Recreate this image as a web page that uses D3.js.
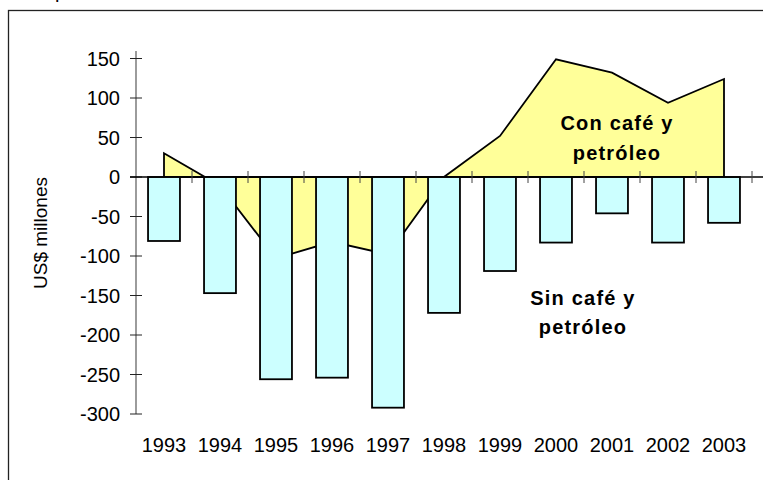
<!DOCTYPE html>
<html>
<head>
<meta charset="utf-8">
<script src="https://cdn.jsdelivr.net/npm/d3@7"></script>
<style>
  body { margin: 0; background: #fff; }
  svg { display: block; font-family: "Liberation Sans", Arial, sans-serif; }
</style>
</head>
<body>
<div id="chart"></div>
<script>
// Data (US$ millones)
var years = ["1993", "1994", "1995", "1996", "1997", "1998", "1999", "2000", "2001", "2002", "2003"];
var conCafe = [30, -11, -103, -82, -98, 0, 52, 149, 132, 94, 124];
var sinCafe = [-81, -147, -256, -254, -292, -172, -119, -83, -46, -83, -58];
var yTicks = [150, 100, 50, 0, -50, -100, -150, -200, -250, -300];

var width = 763, height = 480;

var svg = d3.select("#chart").append("svg")
    .attr("width", width)
    .attr("height", height);

// outer frame (runs off the right and bottom edge)
svg.append("rect")
    .attr("x", 8.5).attr("y", 10.5)
    .attr("width", 800).attr("height", 500)
    .attr("fill", "none")
    .attr("stroke", "#222")
    .attr("stroke-width", 1.3);

// clipped text above the frame
svg.append("text")
    .attr("x", 55).attr("y", -2)
    .attr("font-size", 20)
    .text("p");

var x = d3.scaleBand()
    .domain(years)
    .range([136, 752])
    .paddingInner(0.43)
    .paddingOuter(0.215);

var y = d3.scaleLinear()
    .domain([-300, 150])
    .range([414, 58.5]);

var step = x.step();
function cx(d) { return x(d) + x.bandwidth() / 2; }

// area "Con café y petróleo"
var areaData = years.map(function(d, i) { return { year: d, value: conCafe[i] }; });

var area = d3.area()
    .x(function(d) { return cx(d.year); })
    .y0(y(0))
    .y1(function(d) { return y(d.value); });

svg.append("path")
    .datum(areaData)
    .attr("d", area)
    .attr("fill", "#ffff99")
    .attr("stroke", "#000")
    .attr("stroke-width", 1.8)
    .attr("stroke-linejoin", "miter");

// bars "Sin café y petróleo"
svg.selectAll("rect.bar")
    .data(sinCafe)
    .enter().append("rect")
    .attr("class", "bar")
    .attr("x", function(d, i) { return x(years[i]); })
    .attr("y", y(0))
    .attr("width", x.bandwidth())
    .attr("height", function(d) { return y(d) - y(0); })
    .attr("fill", "#ccffff")
    .attr("stroke", "#000")
    .attr("stroke-width", 1.8);

// y axis
svg.append("line")
    .attr("x1", 136).attr("x2", 136)
    .attr("y1", 51).attr("y2", y(-300))
    .attr("stroke", "#666")
    .attr("stroke-width", 1.3);

svg.selectAll("line.ytick")
    .data(yTicks)
    .enter().append("line")
    .attr("class", "ytick")
    .attr("x1", 130).attr("x2", 142)
    .attr("y1", function(d) { return y(d); })
    .attr("y2", function(d) { return y(d); })
    .attr("stroke", "#222")
    .attr("stroke-width", 1);

svg.selectAll("text.ylab")
    .data(yTicks)
    .enter().append("text")
    .attr("class", "ylab")
    .attr("x", 120)
    .attr("y", function(d) { return y(d); })
    .attr("dy", "0.35em")
    .attr("text-anchor", "end")
    .attr("font-size", 20)
    .attr("fill", "#000")
    .text(function(d) { return d; });

// x axis at zero
svg.append("line")
    .attr("x1", 130).attr("x2", 763)
    .attr("y1", y(0)).attr("y2", y(0))
    .attr("stroke", "#000")
    .attr("stroke-width", 1.6);

svg.selectAll("line.xtick")
    .data(years)
    .enter().append("line")
    .attr("class", "xtick")
    .attr("x1", function(d) { return x(d) - (step - x.bandwidth()) / 2 + step; })
    .attr("x2", function(d) { return x(d) - (step - x.bandwidth()) / 2 + step; })
    .attr("y1", y(0) - 6).attr("y2", y(0) + 6)
    .attr("stroke", "#444")
    .attr("stroke-width", 1);

svg.selectAll("text.xlab")
    .data(years)
    .enter().append("text")
    .attr("class", "xlab")
    .attr("x", cx)
    .attr("y", 452)
    .attr("text-anchor", "middle")
    .attr("font-size", 20)
    .text(function(d) { return d; });

// axis title
svg.append("text")
    .attr("transform", "translate(47,233) rotate(-90)")
    .attr("text-anchor", "middle")
    .attr("font-size", 19)
    .text("US$ millones");

// series labels
var conLines = ["Con café y", "petróleo"];
var sinLines = ["Sin café y", "petróleo"];

svg.selectAll("text.conlab")
    .data(conLines)
    .enter().append("text")
    .attr("class", "conlab")
    .attr("x", 617)
    .attr("y", function(d, i) { return 130 + i * 30; })
    .attr("text-anchor", "middle")
    .attr("font-size", 20)
    .attr("font-weight", "bold")
    .attr("letter-spacing", 1.2)
    .text(function(d) { return d; });

svg.selectAll("text.sinlab")
    .data(sinLines)
    .enter().append("text")
    .attr("class", "sinlab")
    .attr("x", 583)
    .attr("y", function(d, i) { return 305 + i * 29; })
    .attr("text-anchor", "middle")
    .attr("font-size", 20)
    .attr("font-weight", "bold")
    .attr("letter-spacing", 1.2)
    .text(function(d) { return d; });
</script>
</body>
</html>
